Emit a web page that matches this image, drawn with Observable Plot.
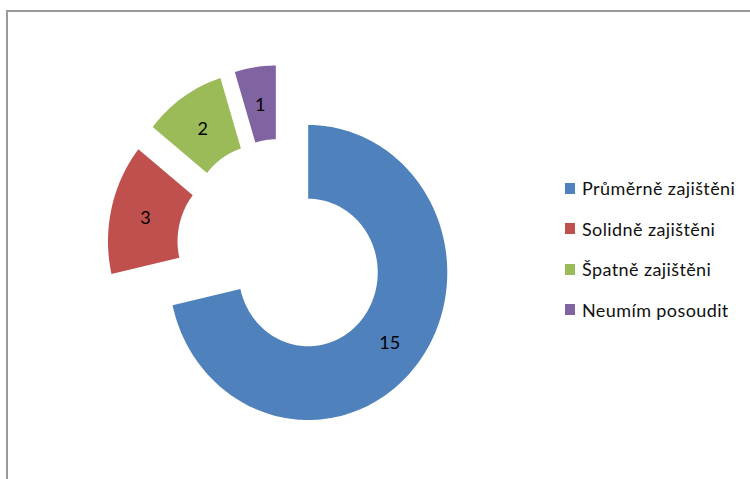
<!DOCTYPE html>
<html>
<head>
<meta charset="utf-8">
<script src="https://cdn.jsdelivr.net/npm/d3@7"></script>
<script src="https://cdn.jsdelivr.net/npm/@observablehq/plot@0.6"></script>
<style>
  html, body { margin: 0; padding: 0; background: #fff; }
  #wrap { position: relative; width: 750px; height: 479px; overflow: hidden; font-family: Lato, "Open Sans", sans-serif; }
  #wrap svg { position: absolute; left: 0; top: 0; }
  #frame { position: absolute; left: 6px; top: 10px; width: 800px; height: 600px;
           border-top: 2px solid #9a9a9a; border-left: 2px solid #9a9a9a; box-sizing: border-box; }
  #legend { position: absolute; left: 565px; top: 168px; }
  .row { display: flex; align-items: center; height: 40.5px; font-size: 18px; letter-spacing: 0.4px; color: #111; }
  .sw { width: 10px; height: 11px; margin-right: 7px; }
</style>
</head>
<body>
<div id="wrap"><div id="frame"></div><div id="legend"></div></div>
<script>
// ---- data ----
const categories = ["Průměrně zajištěni", "Solidně zajištěni", "Špatně zajištěni", "Neumím posoudit"];
const values = [15, 3, 2, 1];
const colors = ["#4F81BD", "#C0504D", "#9BBB59", "#8064A2"];

// ---- geometry (unit circle, mapped by Plot scales) ----
const inner = 0.5, outer = 1, explode = 0.25;
const pie = d3.pie().sort(null).value(d => d.value)(categories.map((c, i) => ({cat: c, value: values[i]})));

const polys = [];
const labels = [];
pie.forEach(s => {
  const mid = (s.startAngle + s.endAngle) / 2;
  const ox = explode * Math.sin(mid), oy = explode * Math.cos(mid);
  const n = Math.max(8, Math.ceil((s.endAngle - s.startAngle) / 0.02));
  let k = 0;
  for (let j = 0; j <= n; j++) {
    const a = s.startAngle + (s.endAngle - s.startAngle) * j / n;
    polys.push({cat: s.data.cat, k: k++, x: ox + outer * Math.sin(a), y: oy + outer * Math.cos(a)});
  }
  for (let j = n; j >= 0; j--) {
    const a = s.startAngle + (s.endAngle - s.startAngle) * j / n;
    polys.push({cat: s.data.cat, k: k++, x: ox + inner * Math.sin(a), y: oy + inner * Math.cos(a)});
  }
  const rm = (inner + outer) / 2;
  labels.push({text: String(s.data.value), x: ox + rm * Math.sin(mid), y: oy + rm * Math.cos(mid)});
});

const cx = 280.5, cy = 249, R = 147.5, sx = 0.943;

const chart = Plot.plot({
  width: 750,
  height: 479,
  margin: 0,
  x: {domain: [-1, 1], range: [cx - R * sx, cx + R * sx], axis: null},
  y: {domain: [-1, 1], range: [cy + R, cy - R], axis: null},
  color: {domain: categories, range: colors},
  style: {background: "transparent"},
  marks: [
    Plot.line(polys, {x: "x", y: "y", z: "cat", fill: "cat", stroke: null, curve: "linear-closed"}),
    Plot.text(labels, {x: "x", y: "y", text: "text", dy: 2, fontSize: 18, fill: "#000", fontFamily: "Lato, sans-serif"})
  ]
});
document.getElementById("wrap").appendChild(chart);

const leg = document.getElementById("legend");
categories.forEach((c, i) => {
  const row = document.createElement("div");
  row.className = "row";
  const sw = document.createElement("div");
  sw.className = "sw";
  sw.style.background = colors[i];
  const t = document.createElement("span");
  t.textContent = c;
  row.appendChild(sw);
  row.appendChild(t);
  leg.appendChild(row);
});
</script>
</body>
</html>
